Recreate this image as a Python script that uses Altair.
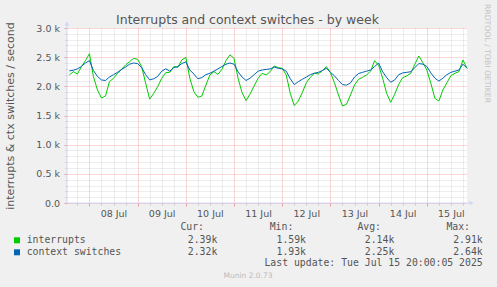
import altair as alt
import pandas as pd

# ---------------- data ----------------
series_start = "2025-07-07 14:00"
series_step = "2h"

interrupts = [2195, 2252, 2210, 2338, 2440, 2560, 2166, 1938, 1800, 1835,
              2081, 2138, 2223, 2292, 2366, 2423, 2480, 2463, 2338, 2052,
              1780, 1881, 1995, 2138, 2235, 2240, 2338, 2326, 2452, 2498,
              2138, 1909, 1812, 1835, 2023, 2195, 2252, 2206, 2292, 2440,
              2540, 2480, 2138, 1892, 1755, 1870, 2006, 2138, 2223, 2195,
              2252, 2349, 2320, 2309, 2195, 1881, 1669, 1749, 1892, 2063,
              2155, 2223, 2212, 2269, 2338, 2235, 2063, 1852, 1663, 1692,
              1852, 2023, 2120, 2155, 2195, 2260, 2440, 2360, 2138, 1881,
              1726, 1864, 2035, 2149, 2178, 2223, 2377, 2520, 2406, 2281,
              2052, 1795, 1749, 1938, 2063, 2183, 2223, 2252, 2452, 2309]

context_switches = [2265, 2275, 2300, 2340, 2400, 2440, 2270, 2170, 2110, 2100,
                    2160, 2200, 2240, 2290, 2330, 2380, 2400, 2390, 2320, 2200,
                    2110, 2130, 2170, 2260, 2300, 2260, 2320, 2340, 2390, 2420,
                    2280, 2210, 2130, 2150, 2200, 2225, 2260, 2300, 2340, 2380,
                    2400, 2380, 2250, 2160, 2100, 2140, 2200, 2260, 2280, 2290,
                    2300, 2330, 2310, 2300, 2260, 2130, 2030, 2080, 2120, 2160,
                    2200, 2225, 2240, 2270, 2310, 2240, 2180, 2100, 2030, 2020,
                    2060, 2160, 2220, 2240, 2260, 2280, 2340, 2400, 2250, 2150,
                    2070, 2110, 2200, 2230, 2240, 2250, 2320, 2390, 2380, 2340,
                    2230, 2140, 2090, 2140, 2200, 2240, 2260, 2280, 2380, 2310]

series_names = ["interrupts", "context switches"]
series_colors = ["#00CC00", "#0066B3"]
cur_vals = ["2.39k", "2.32k"]
min_vals = ["1.59k", "1.93k"]
avg_vals = ["2.14k", "2.25k"]
max_vals = ["2.91k", "2.64k"]
column_heads = ["Cur:", "Min:", "Avg:", "Max:"]

title_text = "Interrupts and context switches - by week"
y_title = "interrupts & ctx switches / second"
last_update = "Last update: Tue Jul 15 20:00:05 2025"
footer = "Munin 2.0.73"
watermark = "RRDTOOL / TOBI OETIKER"

y_major = [0, 500, 1000, 1500, 2000, 2500, 3000]
y_minor = [v for v in range(100, 3000, 100) if v % 500]
day_ticks = [alt.DateTime(year=2025, month=7, date=d) for d in range(8, 16)]
six_hour_ticks = [alt.DateTime(year=2025, month=7, date=d, hours=h)
                  for d in range(7, 16) for h in (6, 12, 18)
                  if not (d == 7 and h < 18)]

times = pd.date_range(series_start, periods=len(interrupts), freq=series_step)
df = pd.DataFrame({"time": times, "interrupts": interrupts,
                   "ctx": context_switches})

# ---------------- styling ----------------
W, H = 400, 175
BG = "#F0F0F0"
TXT = "#555555"
AXIS_C = "#CFD6F8"
SANS = "DejaVu Sans"
MONO = "DejaVu Sans Mono"

xscale = alt.Scale(domain=[alt.DateTime(year=2025, month=7, date=7, hours=12, minutes=50),
                           alt.DateTime(year=2025, month=7, date=15, hours=20)])
yscale = alt.Scale(domain=[0, 3000], nice=False, zero=True)

minor_grid = dict(grid=True, gridColor="#8F8F8F", gridOpacity=0.3, gridDash=[1, 1],
                  labels=False, domain=False, ticks=True, tickSize=2,
                  tickColor="#8F8F8F", tickOpacity=0.4)
major_grid = dict(grid=True, gridColor="#E95050", gridOpacity=0.45, gridDash=[1, 1],
                  domain=False, ticks=True, tickSize=3,
                  tickColor="#E95050", tickOpacity=0.5,
                  labelFont=SANS, labelFontSize=9.5, labelColor=TXT)

green = alt.Chart(df).mark_line(color=series_colors[0], strokeWidth=1).encode(
    x=alt.X("time:T", scale=xscale, title=None,
            axis=alt.Axis(values=six_hour_ticks, orient="bottom", **minor_grid)),
    y=alt.Y("interrupts:Q", scale=yscale, title=None,
            axis=alt.Axis(values=y_minor, orient="left", **minor_grid)),
)

blue = alt.Chart(df).mark_line(color=series_colors[1], strokeWidth=1).encode(
    x=alt.X("time:T", scale=xscale, title=None,
            axis=alt.Axis(values=day_ticks, orient="bottom", format="%d %b",
                          labelOffset=24, labelPadding=2, labelFlush=False,
                          labelOverlap=False, **major_grid)),
    y=alt.Y("ctx:Q", scale=yscale, title=None,
            axis=alt.Axis(values=y_major, orient="left", labelPadding=4.5,
                          labelExpr="datum.value == 0 ? '0.0\u00a0\u00a0' : format(datum.value / 1000, '.1f') + ' k'",
                          **major_grid)),
)

one = pd.DataFrame({"k": [0]})


def txt(text, x, y, align="left", font=MONO, size=9.8, color=TXT, angle=0,
        baseline="middle"):
    return alt.Chart(one).mark_text(text=text, align=align, baseline=baseline,
                                    font=font, fontSize=size, color=color,
                                    angle=angle).encode(x=alt.value(x), y=alt.value(y))


layers = [green, blue]

# axis lines and arrows
layers.append(alt.Chart(one).mark_rule(color=AXIS_C, strokeWidth=1).encode(
    x=alt.value(0), y=alt.value(-3), y2=alt.value(H)))
layers.append(alt.Chart(one).mark_rule(color=AXIS_C, strokeWidth=1).encode(
    x=alt.value(0), x2=alt.value(403), y=alt.value(H)))
layers.append(alt.Chart(one).mark_point(shape="triangle-up", filled=True, size=22,
                                        color=AXIS_C, opacity=1).encode(
    x=alt.value(0), y=alt.value(-4.5)))
layers.append(alt.Chart(one).mark_point(shape="triangle-right", filled=True, size=22,
                                        color=AXIS_C, opacity=1).encode(
    x=alt.value(404.5), y=alt.value(H)))

# titles
layers.append(txt(title_text, 180.5, -4, align="center", font=SANS, size=12.5,
                  baseline="alphabetic"))
layers.append(txt(y_title, -56, 88, align="center", font=SANS, size=11, angle=270))
layers.append(txt(watermark, 420.3, 25.5, align="center", font=SANS, size=7.7,
                  color="#C4C4C4", angle=90))

# legend
head_right = [137, 226.3, 314, 403]
val_right = [150.3, 239, 327.3, 415.7]
for head, xr in zip(column_heads, head_right):
    layers.append(txt(head, xr, 199.3, align="right"))
for i, name in enumerate(series_names):
    yy = 212.3 + 12 * i
    layers.append(alt.Chart(one).mark_rect(color=series_colors[i]).encode(
        x=alt.value(-53), x2=alt.value(-47), y=alt.value(yy - 3), y2=alt.value(yy + 3)))
    layers.append(txt(name, -40.3, yy))
    for vals, xr in zip([cur_vals, min_vals, avg_vals, max_vals], val_right):
        layers.append(txt(vals[i], xr, yy, align="right"))
layers.append(txt(last_update, 415.7, 235.3, align="right"))
layers.append(txt(footer, 181, 248, align="center", font=SANS, size=7.5, color="#BBBBBB"))

chart = alt.layer(*layers).resolve_axis(x="independent", y="independent").properties(
    width=W, height=H,
    autosize=alt.AutoSizeParams(type="none"),
    padding={"left": 67, "top": 28, "right": 30, "bottom": 84},
    background=BG,
).configure_view(stroke=None, fill="#FFFFFF")

chart.save("out.html", embed_options={"renderer": "svg", "actions": False})
